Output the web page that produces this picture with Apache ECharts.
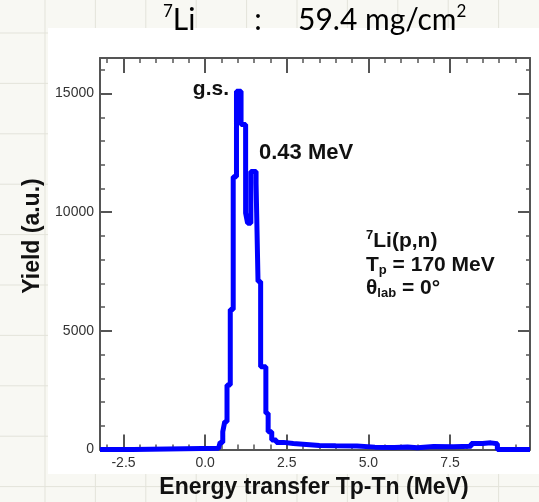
<!DOCTYPE html>
<html><head><meta charset="utf-8">
<script src="https://cdn.jsdelivr.net/npm/echarts/dist/echarts.min.js"></script>
<style>html,body{margin:0;padding:0;background:#fff;}#c{width:539px;height:502px;}</style>
</head><body><div id="c"></div>
<script>
// Histogram: left bin edges (MeV) and yield in each bin (a.u.)
const energyEdges = [-3.22, -2.2, 0.41, 0.46, 0.54, 0.60, 0.67, 0.77, 0.86, 0.96, 1.10, 1.24, 1.30, 1.40, 1.56, 1.62, 1.70, 1.86, 1.93, 2.04, 2.18, 2.40, 2.70, 3.00, 3.50, 4.00, 4.65, 5.20, 5.80, 6.20, 6.50, 7.00, 7.60, 8.15, 8.50, 8.75, 8.95, 9.95];
const yieldValues = [0, 50, 120, 300, 750, 1170, 2720, 5900, 11500, 15100, 13700, 9970, 9540, 11720, 11230, 7080, 3490, 1530, 750, 400, 300, 250, 220, 170, 160, 150, 100, 80, 110, 70, 130, 120, 140, 250, 280, 240, 0, 0];

const xMajorTicks = [-2.5, 0, 2.5, 5, 7.5];
const xMinorTicks = [-3, -2, -1.5, -1, -0.5, 0.5, 1, 1.5, 2, 3, 3.5, 4, 4.5, 5.5, 6, 6.5, 7, 8, 8.5, 9, 9.5];
const yMajorTicks = [0, 5000, 10000, 15000];
const yMinorTicks = [1000, 2000, 3000, 4000, 6000, 7000, 8000, 9000, 11000, 12000, 13000, 14000, 16000];

const X_MIN = -3.22, X_MAX = 9.95, Y_MIN = 0, Y_MAX = 16500;
const AX = '#555';
const FONT = 'Liberation Sans, Arial, Helvetica, sans-serif';

function xAxisDef(pos, ticks, len, width, labels) {
  return {
    type: 'value', position: pos, min: X_MIN, max: X_MAX,
    axisLine: {show: labels !== null || len > 10, onZero: false, lineStyle: {color: AX, width: 2}},
    axisTick: {show: true, inside: true, length: len, customValues: ticks, lineStyle: {color: AX, width: width}},
    axisLabel: labels ? {show: true, customValues: ticks, margin: 7, fontSize: 14, color: '#333', fontFamily: FONT,
      formatter: v => v.toFixed(1)} : {show: false},
    splitLine: {show: false}
  };
}
function yAxisDef(pos, ticks, len, width, labels) {
  return {
    type: 'value', position: pos, min: Y_MIN, max: Y_MAX,
    axisLine: {show: labels !== null || len > 10, onZero: false, lineStyle: {color: AX, width: 2}},
    axisTick: {show: true, inside: true, length: len, customValues: ticks, lineStyle: {color: AX, width: width}},
    axisLabel: labels ? {show: true, customValues: ticks, margin: 6, fontSize: 14, color: '#333', fontFamily: FONT,
      formatter: v => String(v)} : {show: false},
    splitLine: {show: false}
  };
}

// background "spreadsheet" grid
const bg = [{type: 'rect', z: -100, shape: {x: 0, y: 0, width: 539, height: 502}, style: {fill: '#f8f8f3'}}];
for (let k = 0; k < 11; k++) {
  const x = 45 + 50.4 * k;
  bg.push({type: 'line', z: -99, shape: {x1: x, y1: 0, x2: x, y2: 502}, style: {stroke: '#e3e3da', lineWidth: 1}});
}
for (let k = 0; k < 10; k++) {
  const y = 33 + 50.4 * k;
  bg.push({type: 'line', z: -99, shape: {x1: 0, y1: y, x2: 539, y2: y}, style: {stroke: '#e3e3da', lineWidth: 1}});
}
bg.push({type: 'rect', z: -98, shape: {x: 48, y: 28, width: 491, height: 446}, style: {fill: '#ffffff'}});

const bold = 'bold 21px ' + FONT;
const titleRich = {s: {fontSize: 17, fontFamily: 'Lato', lineHeight: 17, verticalAlign: 'top', fill: '#000'},
                   m: {fontSize: 30, fontFamily: 'Lato', lineHeight: 34, verticalAlign: 'middle', fill: '#000'}};
const texts = [
  {type: 'text', z: 100, x: 163, y: 20, style: {
    text: '{s|7}{m|Li}', align: 'left', verticalAlign: 'middle', textAlign: 'left', textVerticalAlign: 'middle', rich: titleRich}},
  {type: 'text', z: 100, x: 258, y: 20, style: {
    text: '{m|:}', align: 'center', verticalAlign: 'middle', textAlign: 'center', textVerticalAlign: 'middle', rich: titleRich}},
  {type: 'text', z: 100, x: 298, y: 20, style: {
    text: '{m|59.4 mg/cm}{s|2}', align: 'left', verticalAlign: 'middle', textAlign: 'left', textVerticalAlign: 'middle', rich: titleRich}},
  {type: 'text', z: 100, x: 33, y: 236, rotation: Math.PI / 2, style: {
    text: 'Yield (a.u.)', font: 'bold 23px ' + FONT, fill: '#111', align: 'center', verticalAlign: 'middle',
    textAlign: 'center', textVerticalAlign: 'middle'}},
  {type: 'text', z: 100, x: 314, y: 488, style: {
    text: 'Energy transfer Tp-Tn (MeV)', font: 'bold 23px ' + FONT, fill: '#111', align: 'center', verticalAlign: 'middle',
    textAlign: 'center', textVerticalAlign: 'middle'}},
  {type: 'text', z: 100, x: 229, y: 89, style: {
    text: 'g.s.', font: bold, fill: '#111', align: 'right', verticalAlign: 'middle', textAlign: 'right', textVerticalAlign: 'middle'}},
  {type: 'text', z: 100, x: 259, y: 153, style: {
    text: '0.43 MeV', font: 'bold 22px ' + FONT, fill: '#111', align: 'left', verticalAlign: 'middle', textAlign: 'left', textVerticalAlign: 'middle'}},
  {type: 'text', z: 100, x: 366, y: 241, style: {
    text: '{s|7}{m|Li(p,n)}', align: 'left', verticalAlign: 'middle', textAlign: 'left', textVerticalAlign: 'middle',
    rich: {s: {fontSize: 13, fontWeight: 'bold', fontFamily: FONT, lineHeight: 13, verticalAlign: 'top', fill: '#111'},
           m: {fontSize: 21, fontWeight: 'bold', fontFamily: FONT, lineHeight: 24, verticalAlign: 'middle', fill: '#111'}}}},
  {type: 'text', z: 100, x: 366, y: 265, style: {
    text: '{m|T}{d|p}{m| = 170 MeV}', align: 'left', verticalAlign: 'middle', textAlign: 'left', textVerticalAlign: 'middle',
    rich: {d: {fontSize: 13, fontWeight: 'bold', fontFamily: FONT, lineHeight: 13, verticalAlign: 'bottom', fill: '#111'},
           m: {fontSize: 21, fontWeight: 'bold', fontFamily: FONT, lineHeight: 24, verticalAlign: 'middle', fill: '#111'}}}},
  {type: 'text', z: 100, x: 366, y: 288, style: {
    text: '{m|θ}{d|lab}{m| = 0°}', align: 'left', verticalAlign: 'middle', textAlign: 'left', textVerticalAlign: 'middle',
    rich: {d: {fontSize: 13, fontWeight: 'bold', fontFamily: FONT, lineHeight: 13, verticalAlign: 'bottom', fill: '#111'},
           m: {fontSize: 21, fontWeight: 'bold', fontFamily: FONT, lineHeight: 24, verticalAlign: 'middle', fill: '#111'}}}}
];

const chart = echarts.init(document.getElementById('c'), null, {renderer: 'canvas'});
chart.setOption({
  animation: false,
  backgroundColor: 'transparent',
  grid: {left: 100, top: 58, width: 430, height: 391.5, show: false},
  xAxis: [
    xAxisDef('bottom', xMajorTicks, 15, 2, true),
    xAxisDef('bottom', xMinorTicks, 5, 1.5, null),
    xAxisDef('top', xMajorTicks, 15, 2, false),
    xAxisDef('top', xMinorTicks, 5, 1.5, null)
  ],
  yAxis: [
    yAxisDef('left', yMajorTicks, 12, 2, true),
    yAxisDef('left', yMinorTicks, 5, 1.5, null),
    yAxisDef('right', yMajorTicks, 12, 2, false),
    yAxisDef('right', yMinorTicks, 4, 1.5, null)
  ],
  graphic: {elements: bg.concat(texts)},
  series: [{
    type: 'line', xAxisIndex: 0, yAxisIndex: 0, step: 'end', clip: false,
    showSymbol: false, symbol: 'none', silent: true,
    lineStyle: {color: '#0000ff', width: 5},
    data: energyEdges.map((e, i) => [e, yieldValues[i]])
  }]
});
</script></body></html>
